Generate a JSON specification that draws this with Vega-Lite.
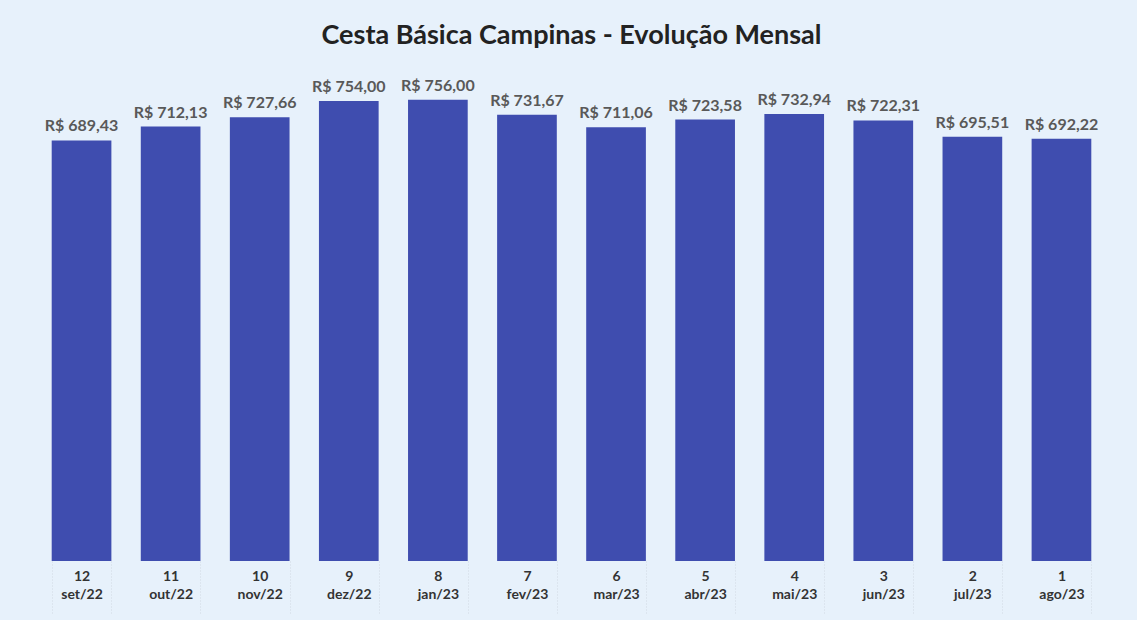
{
  "$schema": "https://vega.github.io/schema/vega-lite/v6.json",
  "autosize": {"type": "fit", "contains": "padding"},
  "width": 1137,
  "height": 620,
  "padding": {"left": 37, "right": 31, "top": 22, "bottom": 6},
  "background": "#E7F1FB",
  "title": {
    "text": "Cesta Básica Campinas - Evolução Mensal",
    "font": "Lato",
    "fontSize": 27,
    "fontWeight": "bold",
    "color": "#222222",
    "anchor": "middle",
    "offset": 23
  },
  "config": {
    "view": {"stroke": null},
    "locale": {
      "number": {"decimal": ",", "thousands": ".", "grouping": [3], "currency": ["R$ ", ""]}
    }
  },
  "data": {
    "values": [
      {"rotulo": "12|set/22", "valor": 689.43},
      {"rotulo": "11|out/22", "valor": 712.13},
      {"rotulo": "10|nov/22", "valor": 727.66},
      {"rotulo": "9|dez/22", "valor": 754.00},
      {"rotulo": "8|jan/23", "valor": 756.00},
      {"rotulo": "7|fev/23", "valor": 731.67},
      {"rotulo": "6|mar/23", "valor": 711.06},
      {"rotulo": "5|abr/23", "valor": 723.58},
      {"rotulo": "4|mai/23", "valor": 732.94},
      {"rotulo": "3|jun/23", "valor": 722.31},
      {"rotulo": "2|jul/23", "valor": 695.51},
      {"rotulo": "1|ago/23", "valor": 692.22}
    ]
  },
  "encoding": {
    "x": {
      "field": "rotulo",
      "type": "nominal",
      "sort": null,
      "scale": {"paddingInner": 0.33, "paddingOuter": 0.165},
      "axis": {
        "title": null,
        "labelAngle": 0,
        "labelExpr": "split(datum.label, '|')",
        "labelFont": "Lato",
        "labelFontSize": 14,
        "labelFontWeight": "bold",
        "labelColor": "#333333",
        "labelLineHeight": 18,
        "labelPadding": -44,
        "domain": false,
        "ticks": true,
        "tickBand": "extent",
        "tickSize": 52,
        "tickColor": "#D0D9E2",
        "tickDash": [1, 2],
        "tickWidth": 1
      }
    },
    "y": {
      "field": "valor",
      "type": "quantitative",
      "scale": {"domain": [0, 800], "nice": false},
      "axis": null
    }
  },
  "layer": [
    {"mark": {"type": "bar", "color": "#3F4DAF"}},
    {
      "mark": {
        "type": "text",
        "baseline": "bottom",
        "dy": -6,
        "font": "Lato",
        "fontSize": 16,
        "fontWeight": "bold",
        "color": "#595959"
      },
      "encoding": {
        "text": {"field": "valor", "type": "quantitative", "format": "$,.2f"}
      }
    }
  ]
}
